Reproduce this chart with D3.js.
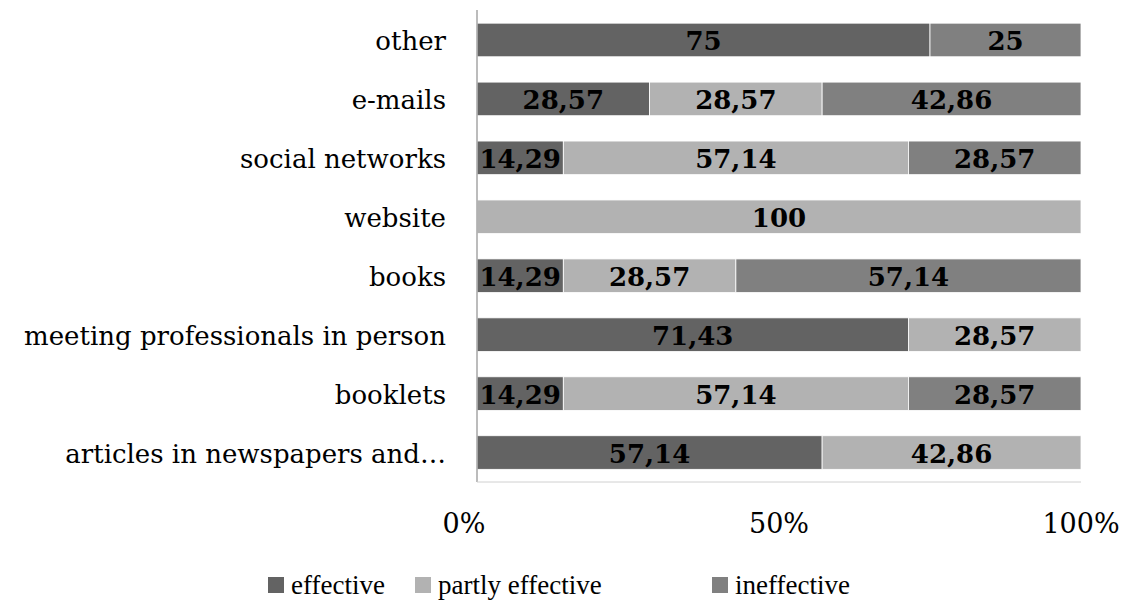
<!DOCTYPE html>
<html>
  <head>
    <meta charset="utf-8">
    <style>
      body { margin:0; background:#fff; }
      text { font-family: "DejaVu Serif", serif; fill:#000; }
      .cat text { font-size:26px; }
      .ticks text { font-size:27px; text-anchor:middle; }
      .legend text { font-family: "Liberation Serif", serif; font-size:27px; }
      .labels text { font-size:26px; font-weight:bold; text-anchor:middle; dominant-baseline:central; }
    </style>
    <script src="https://d3js.org/d3.v7.min.js"></script>
  </head>
  <body>
    <script>
      const categories = ['other','e-mails','social networks','website','books',
        'meeting professionals in person','booklets','articles in newspapers and…']
      const seriesNames = ['effective','partly effective','ineffective']
      const effective = [75, 28.57, 14.29, 0, 14.29, 71.43, 14.29, 57.14]
      const partly = [0, 28.57, 57.14, 100, 28.57, 28.57, 57.14, 42.86]
      const ineffective = [25, 42.86, 28.57, 0, 57.14, 0, 28.57, 0]
      const colors = ['#636363','#b2b2b2','#808080']
      const ticks = [0, 50, 100]

      const W = 1126, H = 601
      const svg = d3.select('body').append('svg').attr('width',W).attr('height',H)

      const x = d3.scaleLinear().domain([0,100]).range([477,1081])
      const y = d3.scaleBand().domain(categories).range([10.5,482]).paddingInner(0.43).paddingOuter(0.215)

      const rows = categories.map((c,i) => ({cat:c, effective:effective[i], partly:partly[i], ineffective:ineffective[i]}))
      const stack = d3.stack().keys(['effective','partly','ineffective'])(rows)

      // bars
      const $bars = svg.append('g')
      stack.forEach((s,k) => {
        $bars.selectAll(null).data(s.filter(d => d[1]-d[0] > 0)).enter().append('rect')
          .attr('x',d => x(d[0]))
          .attr('y',d => y(d.data.cat))
          .attr('width',d => x(d[1])-x(d[0]))
          .attr('height',y.bandwidth())
          .attr('fill',colors[k])
          .attr('stroke','#fff').attr('stroke-width',0.8)
      })

      // value labels
      const $labels = svg.append('g').classed('labels',true)
      stack.forEach(s => {
        $labels.selectAll(null).data(s.filter(d => d[1]-d[0] > 0)).enter().append('text')
          .attr('x',d => (x(d[0])+x(d[1]))/2)
          .attr('y',d => y(d.data.cat)+y.bandwidth()/2+1)
          .text(d => String(+(d[1]-d[0]).toFixed(2)).replace('.',','))
      })

      // axis lines
      svg.append('line').attr('x1',477).attr('x2',477).attr('y1',10).attr('y2',482)
        .attr('stroke','#a6a6a6').attr('stroke-width',1.5)
      svg.append('line').attr('x1',477).attr('x2',1081).attr('y1',482).attr('y2',482)
        .attr('stroke','#d0d0d0').attr('stroke-width',1)

      // category labels
      const $cat = svg.append('g').classed('cat',true)
      $cat.selectAll('text').data(categories).enter().append('text')
        .attr('x',446).attr('y',d => y(d)+y.bandwidth()/2+1)
        .attr('text-anchor','end').attr('dominant-baseline','central')
        .text(d => d)

      // value axis: labels only
      const $ticks = svg.append('g').classed('ticks',true)
      $ticks.selectAll('text').data(ticks).enter().append('text')
        .attr('x',d => x(d)).attr('y',533)
        .attr('dx',(d,i) => i == 0 ? -13 : 0)
        .text(d => d+'%')

      // legend
      const legendX = [268, 415, 712]
      const $legend = svg.append('g').classed('legend',true)
      const items = $legend.selectAll('g').data(seriesNames).enter().append('g')
        .attr('transform',(d,i) => `translate(${legendX[i]},0)`)
      items.append('rect').attr('x',0).attr('y',577).attr('width',16).attr('height',16)
        .attr('fill',(d,i) => colors[i])
      items.append('text').attr('x',23).attr('y',594).text(d => d)
    </script>
  </body>
</html>
